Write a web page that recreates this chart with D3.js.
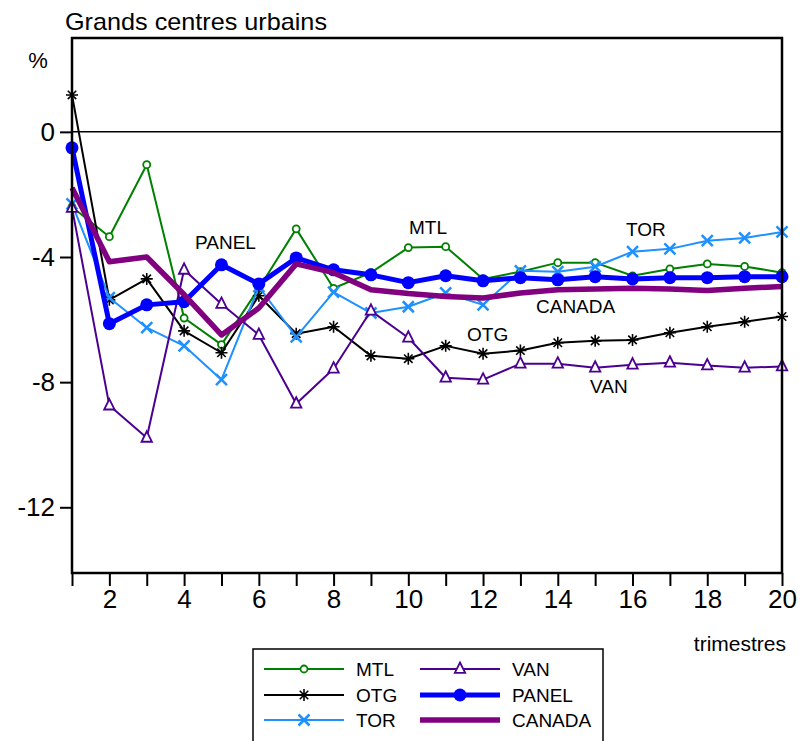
<!DOCTYPE html>
<html><head><meta charset="utf-8">
<script src="https://cdn.jsdelivr.net/npm/d3@7"></script>
<style>body{margin:0;background:#fff}svg{display:block;font-family:"Liberation Sans",Arial,sans-serif}</style>
</head><body>
<svg id="c" width="804" height="741"></svg>
<script>
const quarters = d3.range(1, 21);
const MTL   = [-2.4,-3.35,-1.05,-5.95,-6.8,-5.0,-3.1,-5.0,-4.5,-3.7,-3.67,-4.7,-4.47,-4.18,-4.18,-4.6,-4.38,-4.22,-4.3,-4.5];
const OTG   = [1.18,-5.37,-4.7,-6.36,-7.06,-5.24,-6.45,-6.23,-7.16,-7.25,-6.84,-7.09,-6.99,-6.74,-6.68,-6.65,-6.42,-6.23,-6.07,-5.9];
const TOR   = [-2.3,-5.3,-6.26,-6.84,-7.92,-4.95,-6.55,-5.12,-5.79,-5.59,-5.15,-5.53,-4.44,-4.47,-4.31,-3.83,-3.74,-3.48,-3.39,-3.2];
const VAN   = [-2.43,-8.75,-9.78,-4.41,-5.5,-6.49,-8.69,-7.57,-5.72,-6.58,-7.86,-7.92,-7.41,-7.41,-7.54,-7.44,-7.38,-7.47,-7.54,-7.5];
const PANEL = [-0.51,-6.13,-5.53,-5.43,-4.25,-4.86,-4.03,-4.41,-4.57,-4.82,-4.6,-4.76,-4.66,-4.73,-4.63,-4.7,-4.66,-4.66,-4.63,-4.63];
const CANADA= [-1.79,-4.15,-4.0,-5.2,-6.49,-5.63,-4.22,-4.5,-5.05,-5.17,-5.26,-5.31,-5.15,-5.05,-5.02,-5.0,-5.02,-5.07,-5.0,-4.94];
const yTicks = [0,-4,-8,-12];
const xTickLabels = [2,4,6,8,10,12,14,16,18,20];

const series = [
  {name:"MTL", values:MTL, color:"#008000", width:2, marker:"circle"},
  {name:"OTG", values:OTG, color:"#000000", width:2, marker:"star"},
  {name:"TOR", values:TOR, color:"#1E90FF", width:2, marker:"x"},
  {name:"VAN", values:VAN, color:"#4B0090", width:2, marker:"triangle"},
  {name:"PANEL", values:PANEL, color:"#0000FF", width:5, marker:"dot"},
  {name:"CANADA", values:CANADA, color:"#800080", width:5.5, marker:"none"}
];

const FONT = '"Liberation Sans", Arial, sans-serif';
const svg = d3.select("#c");
const L=72, R=782, T=38, B=573;
const x = d3.scaleLinear().domain([1,20]).range([L,R]);
const y = d3.scaleLinear().domain([3,-14.1]).range([T,B]);

svg.append("text").attr("x",65).attr("y",30).attr("font-size",24).attr("textLength",262).attr("lengthAdjust","spacingAndGlyphs").text("Grands centres urbains");
svg.append("text").attr("x",38).attr("y",68).attr("font-size",22).attr("text-anchor","middle").text("%");

// zero line
svg.append("line").attr("x1",L).attr("x2",R).attr("y1",y(0)).attr("y2",y(0)).attr("stroke","#000").attr("stroke-width",1.5);

// axes
const xAxis = d3.axisBottom(x).tickValues(quarters).tickSize(13).tickPadding(4)
  .tickFormat(d => xTickLabels.includes(d) ? String(d) : "");
const gx = svg.append("g").attr("transform",`translate(0,${B})`).call(xAxis);
gx.select(".domain").remove();
gx.selectAll("text").attr("font-size",26).attr("font-family",FONT).attr("fill","#000");
gx.selectAll("line").attr("stroke","#000").attr("stroke-width",2);

const yAxis = d3.axisLeft(y).tickValues(yTicks).tickSize(12).tickPadding(5).tickFormat(d => String(d));
const gy = svg.append("g").attr("transform",`translate(${L},0)`).call(yAxis);
gy.select(".domain").remove();
gy.selectAll("text").attr("font-size",26).attr("font-family",FONT).attr("fill","#000");
gy.selectAll("line").attr("stroke","#000").attr("stroke-width",2);

svg.append("text").attr("x",786).attr("y",651).attr("font-size",21).attr("text-anchor","end").text("trimestres");

const line = d3.line().x((d,i)=>x(quarters[i])).y(d=>y(d));

function marker(g, type, cx, cy, color){
  if(type==="circle"){
    g.append("circle").attr("cx",cx).attr("cy",cy).attr("r",3.5).attr("fill","#fff").attr("stroke",color).attr("stroke-width",1.8);
  } else if(type==="dot"){
    g.append("circle").attr("cx",cx).attr("cy",cy).attr("r",6.5).attr("fill",color);
  } else if(type==="x"){
    const s=5.5;
    g.append("path").attr("d",`M${cx-s},${cy-s}L${cx+s},${cy+s}M${cx-s},${cy+s}L${cx+s},${cy-s}`).attr("stroke",color).attr("stroke-width",2.5);
  } else if(type==="star"){
    const s=6; let d="";
    for(let k=0;k<4;k++){const a=k*Math.PI/4; d+=`M${cx-s*Math.cos(a)},${cy-s*Math.sin(a)}L${cx+s*Math.cos(a)},${cy+s*Math.sin(a)}`;}
    g.append("path").attr("d",d).attr("stroke",color).attr("stroke-width",1.6);
  } else if(type==="triangle"){
    const s=6.5;
    g.append("path").attr("d",`M${cx},${cy-s}L${cx+s*0.8},${cy+s*0.6}L${cx-s*0.8},${cy+s*0.6}Z`).attr("fill","#fff").attr("stroke",color).attr("stroke-width",1.8);
  }
}

const plot = svg.append("g");
series.forEach(s=>{
  const g = plot.append("g");
  g.append("path").datum(s.values).attr("d",line).attr("fill","none").attr("stroke",s.color).attr("stroke-width",s.width).attr("stroke-linejoin","round");
  s.values.forEach((v,i)=>marker(g,s.marker,x(quarters[i]),y(v),s.color));
});

// frame
svg.append("rect").attr("x",L).attr("y",T).attr("width",R-L).attr("height",B-T).attr("fill","none").attr("stroke","#000").attr("stroke-width",2.5);

// series labels
const labels = [["PANEL",195,249],["MTL",409,234],["TOR",626,236],["CANADA",536,313],["OTG",467,341],["VAN",590,393]];
labels.forEach(l=>svg.append("text").attr("x",l[1]).attr("y",l[2]).attr("font-size",19).attr("fill","#000").text(l[0]));

// legend
const lg = svg.append("g");
lg.append("rect").attr("x",253).attr("y",649).attr("width",350).attr("height",110).attr("fill","#fff").attr("stroke","#000").attr("stroke-width",1.5);
const cols=[264,420], rowsY=[669,695,720];
series.forEach((s,i)=>{
  const cx = cols[Math.floor(i/3)], cy = rowsY[i%3];
  lg.append("line").attr("x1",cx).attr("x2",cx+80).attr("y1",cy).attr("y2",cy).attr("stroke",s.color).attr("stroke-width",s.width);
  marker(lg,s.marker,cx+40,cy,s.color);
  lg.append("text").attr("x",cx+92).attr("y",cy+7).attr("font-size",19).text(s.name);
});
</script>
</body></html>
